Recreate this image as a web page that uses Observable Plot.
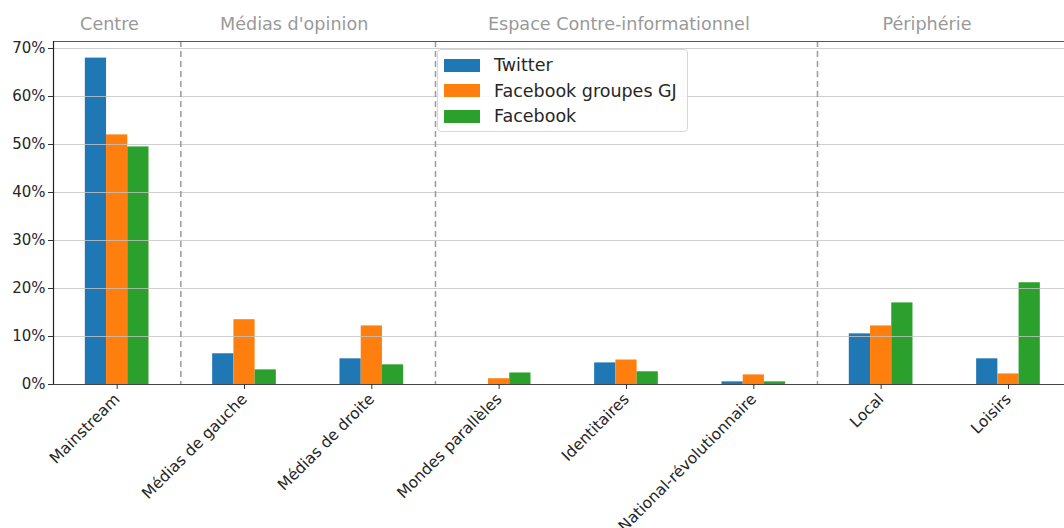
<!DOCTYPE html>
<html><head><meta charset="utf-8">
<script src="https://cdn.jsdelivr.net/npm/d3@7"></script>
<script src="https://cdn.jsdelivr.net/npm/@observablehq/plot@0.6"></script>
<style>
body{margin:0;background:#fff;overflow:hidden}
#wrap{position:relative;width:1064px;height:528px}
.legend{position:absolute;left:437px;top:49px;width:251px;height:83px;box-sizing:border-box;border:1px solid #d6d6d6;border-radius:4px;background:rgba(255,255,255,0.85);font-family:"DejaVu Sans",sans-serif;font-size:17.5px;color:#262626}
.legend .row{position:absolute;left:6px;height:20px;display:flex;align-items:center}
.legend .sw{width:36px;height:13px;margin-right:14px}
</style>
</head><body>
<div id="wrap"></div>
<script>
const categories = ["Mainstream","Médias de gauche","Médias de droite","Mondes parallèles","Identitaires","National-révolutionnaire","Local","Loisirs"];
const series = ["Twitter","Facebook groupes GJ","Facebook"];
const colors = ["#1f77b4","#ff7f0e","#2ca02c"];
const twitter  = [68.0, 6.4, 5.35, 0.0, 4.5, 0.55, 10.55, 5.35];
const fbGroups = [52.0, 13.5, 12.2, 1.2, 5.1, 2.0, 12.2, 2.2];
const facebook = [49.5, 3.05, 4.1, 2.4, 2.65, 0.55, 17.0, 21.2];
const groups = ["Centre","Médias d'opinion","Espace Contre-informationnel","Périphérie"];
const groupPos = [-0.06, 1.39, 3.94, 6.36];
const separators = [0.5, 2.5, 5.5];
const yTicks = [0,10,20,30,40,50,60,70];
const yMax = 71.46;

const values = [twitter, fbGroups, facebook];
const rows = [];
categories.forEach((c,i) => values.forEach((arr,k) => rows.push({
  i, k, x1: i - 0.25 + k/6, x2: i - 0.25 + (k+1)/6, value: arr[i], series: series[k]
})));

const chart = Plot.plot({
  width: 1064, height: 528,
  marginLeft: 53, marginRight: 0, marginTop: 41, marginBottom: 144,
  style: {fontFamily: "DejaVu Sans, sans-serif", fontSize: "15px", color: "#262626", background: "#fff"},
  x: {type: "linear", domain: [-0.5, 7.44]},
  y: {domain: [0, yMax]},
  marks: [
    Plot.rectY(rows, {x1: "x1", x2: "x2", y1: 0, y2: "value", fill: d => colors[d.k], insetLeft: 0, insetRight: 0}),
    Plot.ruleY(yTicks.slice(1), {stroke: "#c4c4c4", strokeOpacity: 0.8, strokeWidth: 1}),
    Plot.ruleX(separators, {stroke: "#9a9a9a", strokeWidth: 1.5, strokeDasharray: "6,4"}),
    Plot.ruleY([0], {stroke: "#444", strokeWidth: 1.2}),
    Plot.ruleY([yMax], {stroke: "#555", strokeWidth: 1.2}),
    Plot.ruleX([-0.5], {stroke: "#222", strokeWidth: 1.2}),
    Plot.axisY({ticks: yTicks, tickFormat: d => d + "%", tickSize: 5, tickPadding: 3, fontSize: 15, label: null, stroke: "#333"}),
    Plot.axisX({ticks: d3.range(categories.length), tickFormat: i => categories[i], tickRotate: -45, tickSize: 5, tickPadding: 7, fontSize: 15.5, label: null, stroke: "#333"}),
    Plot.text(groups, {x: (d,i) => groupPos[i], y: yMax, text: d => d, dy: -17, fill: "#999", fontSize: 17.6, lineAnchor: "middle", textAnchor: "middle", clip: false})
  ]
});
document.getElementById("wrap").appendChild(chart);

const leg = document.createElement("div");
leg.className = "legend";
series.forEach((s,k) => {
  const r = document.createElement("div");
  r.className = "row";
  r.style.top = (5 + k*25.5) + "px";
  r.innerHTML = `<span class="sw" style="background:${colors[k]}"></span><span>${s}</span>`;
  leg.appendChild(r);
});
document.getElementById("wrap").appendChild(leg);
</script>
</body></html>
